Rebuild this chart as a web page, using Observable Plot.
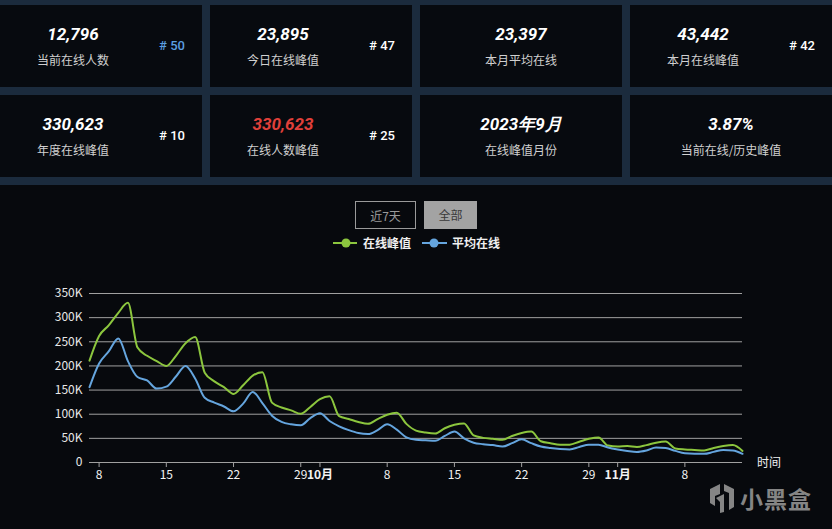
<!DOCTYPE html>
<html><head><meta charset="utf-8">
<script src="https://cdn.jsdelivr.net/npm/d3@7"></script>
<script src="https://cdn.jsdelivr.net/npm/@observablehq/plot@0.6"></script>
<style>
body{margin:0;background:#07090d;width:832px;height:529px;overflow:hidden;position:relative;font-family:"Noto Sans CJK SC","Noto Sans",sans-serif;}
#top{position:absolute;left:0;top:0;width:832px;height:185px;background:#1b2b3d;}
.card{position:absolute;background:#070a0f;width:202px;height:82px;}
.num{position:absolute;top:18px;height:22px;line-height:22px;font-family:Roboto,sans-serif;font-weight:700;font-style:italic;font-size:17px;color:#fff;transform:translateX(-50%);white-space:nowrap;}
.lab{position:absolute;top:46px;height:18px;line-height:18px;font-size:12px;color:#d0d0d0;transform:translateX(-50%);white-space:nowrap;}
.rank{position:absolute;top:32px;height:18px;line-height:18px;font-family:Roboto,sans-serif;font-weight:500;font-size:13px;color:#fff;transform:translateX(-50%);white-space:nowrap;}
.btn{position:absolute;top:201px;height:28px;line-height:27px;font-size:12px;text-align:center;box-sizing:border-box;}
#chart{position:absolute;left:0;top:270px;}
#wm{position:absolute;left:740px;top:481px;font-size:23px;font-weight:700;color:#858585;letter-spacing:1px;}
</style></head>
<body>
<div id="top"></div>
<div id="cards"></div>
<div class="btn" style="left:355px;width:61px;border:1px solid #9a9a9a;color:#9a9a9a;">近7天</div>
<div class="btn" style="left:424px;width:53px;background:#a3a3a3;color:#3a3a3a;">全部</div>
<svg id="legend" style="position:absolute;left:320px;top:232px" width="200" height="22">
  <line x1="13" x2="37" y1="11" y2="11" stroke="#8cc63e" stroke-width="2"/>
  <circle cx="26" cy="11" r="4.5" fill="#8cc63e"/>
  <text x="43" y="15.5" fill="#f0f0f0" font-size="12" font-weight="700">在线峰值</text>
  <line x1="102" x2="127" y1="11" y2="11" stroke="#65a5de" stroke-width="2"/>
  <circle cx="114" cy="11" r="4.5" fill="#65a5de"/>
  <text x="132" y="15.5" fill="#f0f0f0" font-size="12" font-weight="700">平均在线</text>
</svg>
<div id="chart"></div>
<div style="position:absolute;left:757px;top:453px;font-size:12px;color:#f0f0f0;">时间</div>
<svg style="position:absolute;left:706px;top:482px" width="32" height="32">
  <path d="M4 7 L14 2 L14 12 L9 14 L9 24 L4 21 Z" fill="#858585"/>
  <path d="M28 7 L18 2 L18 9 L23 11 L23 28 L28 25 Z" fill="#858585"/>
  <path d="M10 16 L18 12 L18 30 L14 31 L14 20 Z" fill="#858585"/>
</svg>
<div id="wm">小黑盒</div>
<script>
// Stat cards
const cardValues = ["12,796","23,895","23,397","43,442","330,623","330,623","2023年9月","3.87%"];
const cardLabels = ["当前在线人数","今日在线峰值","本月平均在线","本月在线峰值","年度在线峰值","在线人数峰值","在线峰值月份","当前在线/历史峰值"];
const cardRanks = ["# 50","# 47","","# 42","# 10","# 25","",""];
const cardValueColors = ["#fff","#fff","#fff","#fff","#fff","#e0403a","#fff","#fff"];
const cardRankColors = ["#5b9ee0","#fff","#fff","#fff","#fff","#fff","#fff","#fff"];

// Chart data (thousands)
const dates = [
"2023-09-07","2023-09-08","2023-09-09","2023-09-10","2023-09-11","2023-09-12","2023-09-13","2023-09-14","2023-09-15","2023-09-16",
"2023-09-17","2023-09-18","2023-09-19","2023-09-20","2023-09-21","2023-09-22","2023-09-23","2023-09-24","2023-09-25","2023-09-26",
"2023-09-27","2023-09-28","2023-09-29","2023-09-30","2023-10-01","2023-10-02","2023-10-03","2023-10-04","2023-10-05","2023-10-06",
"2023-10-07","2023-10-08","2023-10-09","2023-10-10","2023-10-11","2023-10-12","2023-10-13","2023-10-14","2023-10-15","2023-10-16",
"2023-10-17","2023-10-18","2023-10-19","2023-10-20","2023-10-21","2023-10-22","2023-10-23","2023-10-24","2023-10-25","2023-10-26",
"2023-10-27","2023-10-28","2023-10-29","2023-10-30","2023-10-31","2023-11-01","2023-11-02","2023-11-03","2023-11-04","2023-11-05",
"2023-11-06","2023-11-07","2023-11-08","2023-11-09","2023-11-10","2023-11-11","2023-11-12","2023-11-13","2023-11-14"];
const peakOnline = [
211,262,284,310,330.6,238,221,210,200,221,
247,260,186,168,156,142,160,180,187,124,
114,108,101,115,131,137,96,90,84,80,
90,99,103,80,66,62,60,71,78,81,
56,51,49,47,55,61,64,44,40,37,
37,43,49,52,35,33,34,32,36,41,
43.4,29,27,26,25,30,34,36,24];
const avgOnline = [
156,205,230,257,210,177,170,153,157,178,
200,174,134,124,116,106,122,146,123,97,
84,79,77,92,102,86,75,67,61,59,
67,79,68,52,47,46,45,55,64,50,
41,38,36,33,40,48,40,33,30,28,
27,32,37,37,31,27,24,22,25,31,
30,24,19,18,18,22,26,25,18];
const seriesNames = ["在线峰值","平均在线"];
const seriesColors = ["#8cc63e","#65a5de"];
const yTicks = [0,50000,100000,150000,200000,250000,300000,350000];
const dayTickDates = ["2023-09-08","2023-09-15","2023-09-22","2023-09-29","2023-10-08","2023-10-15","2023-10-22","2023-10-29","2023-11-08"];
const monthTickDates = ["2023-10-01","2023-11-01"];
const monthTickLabels = ["10月","11月"];

// build cards
const cardsEl = document.getElementById("cards");
const lefts = [0,210,420,630], tops = [5,95];
cardValues.forEach((v,i)=>{
  const c = document.createElement("div");
  c.className="card";
  c.style.left = lefts[i%4]+"px"; c.style.top = tops[Math.floor(i/4)]+"px";
  if (i%4===3) c.style.width = "202px";
  const cx = cardRanks[i] ? 73 : 101;
  c.innerHTML = `<div class="num" style="left:${cx}px;color:${cardValueColors[i]}">${v}</div>
    <div class="lab" style="left:${cx}px">${cardLabels[i]}</div>` +
    (cardRanks[i] ? `<div class="rank" style="left:172px;color:${cardRankColors[i]}">${cardRanks[i]}</div>` : "");
  cardsEl.appendChild(c);
});

const parse = d3.utcParse("%Y-%m-%d");
const data = [];
dates.forEach((d,i)=>{
  data.push({date:parse(d), v:peakOnline[i]*1000, s:seriesNames[0]});
});
dates.forEach((d,i)=>{
  data.push({date:parse(d), v:avgOnline[i]*1000, s:seriesNames[1]});
});
const dayTicks = dayTickDates.map(parse);
const monthTicks = monthTickDates.map(parse);

const chart = Plot.plot({
  width:832, height:229,
  marginLeft:89, marginRight:90, marginTop:23, marginBottom:37,
  style:{background:"transparent", color:"#e8e8e8", fontSize:"12px", fontFamily:"'Noto Sans CJK SC', sans-serif"},
  x:{type:"utc", domain:[parse(dates[0]), parse(dates[dates.length-1])], label:null},
  y:{domain:[0,350000], label:null},
  color:{domain:seriesNames, range:seriesColors},
  marks:[
    Plot.ruleY(yTicks, {stroke:"#a0a0a0", strokeWidth:1, strokeOpacity:1}),
    Plot.axisY({ticks:yTicks, tickSize:0, tickPadding:7, label:null, fill:"#e8e8e8", fontSize:12,
      tickFormat:d=> d===0 ? "0" : (d/1000)+"K"}),
    Plot.axisX({ticks:[...dayTicks, ...monthTicks], tickSize:5, tickFormat:()=>"", stroke:"#a0a0a0", label:null}),
    Plot.text(dayTicks, {x:d=>d, y:()=>0, dy:13, text:d=>String(d.getUTCDate()), fill:"#f2f2f2", fontSize:12}),
    Plot.text(monthTicks, {x:d=>d, y:()=>0, dy:13, text:(d,i)=>monthTickLabels[i], fill:"#f2f2f2", fontSize:12, fontWeight:"bold"}),
    Plot.line(data, {x:"date", y:"v", stroke:"s", z:"s", curve:"monotone-x", strokeWidth:2})
  ]
});
document.getElementById("chart").appendChild(chart);
</script>
</body></html>
